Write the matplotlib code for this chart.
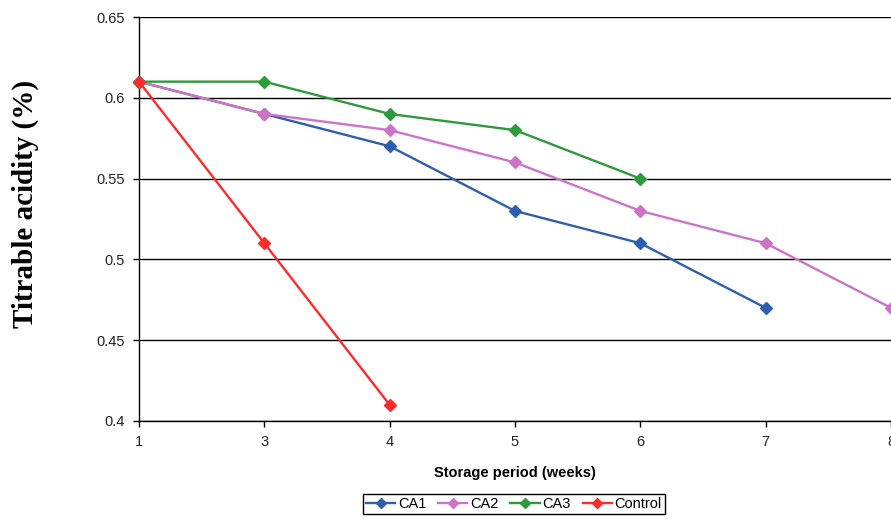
import matplotlib
matplotlib.use("Agg")
import matplotlib.pyplot as plt

# storage period (weeks), plotted as equally spaced categories
weeks = ["1", "3", "4", "5", "6", "7", "8"]

ca1 = [0.61, 0.59, 0.57, 0.53, 0.51, 0.47]
ca2 = [0.61, 0.59, 0.58, 0.56, 0.53, 0.51, 0.47]
ca3 = [0.61, 0.61, 0.59, 0.58, 0.55]
control = [0.61, 0.51, 0.41]

series = [
    ("CA1", ca1, "#2f5eae"),
    ("CA2", ca2, "#cc73c8"),
    ("CA3", ca3, "#2e9a3c"),
    ("Control", control, "#ff2a2a"),
]

yticks = [0.4, 0.45, 0.5, 0.55, 0.6, 0.65]
ytick_labels = ["0.4", "0.45", "0.5", "0.55", "0.6", "0.65"]

plt.rcParams["font.family"] = ["Liberation Sans", "DejaVu Sans"]

fig = plt.figure(figsize=(8.91, 5.19), dpi=100)
# axes runs off the right edge like the original (category 8 sits on the border)
ax = fig.add_axes([139 / 891, 98 / 519, 752 / 891, 404 / 519])

for name, vals, col in series:
    ax.plot(range(len(vals)), vals, color=col, lw=1.7, marker="D", ms=6,
            label=name, clip_on=False, zorder=3)

ax.set_xlim(0, len(weeks) - 1)
ax.set_ylim(0.4, 0.65)
ax.set_xticks(range(len(weeks)))
ax.set_xticklabels(weeks)
ax.set_yticks(yticks)
ax.set_yticklabels(ytick_labels)
ax.tick_params(axis="both", labelsize=10.5, length=4, width=1, color="black",
               labelcolor="#222222", direction="out", pad=6)
ax.yaxis.grid(True, color="black", lw=1)
ax.set_axisbelow(True)
for side in ["top", "right"]:
    ax.spines[side].set_visible(False)
for side in ["left", "bottom"]:
    ax.spines[side].set_linewidth(1)

ax.set_xlabel("Storage period (weeks)", fontsize=10.5, fontweight="bold", labelpad=12)
fig.text(25 / 891, 1 - 204 / 519, "Titrable acidity (%)", rotation=90,
         ha="center", va="center", fontsize=21, fontweight="bold",
         family="Liberation Serif")

fig.legend(loc="center", bbox_to_anchor=(514 / 891, 1 - 504 / 519), ncol=4,
           fontsize=10.5, frameon=True, fancybox=False, edgecolor="black",
           framealpha=1, handlelength=2.0, handletextpad=0.2, columnspacing=0.8,
           borderpad=0.2, markerscale=0.85)

fig.savefig("out.png", dpi=100)
